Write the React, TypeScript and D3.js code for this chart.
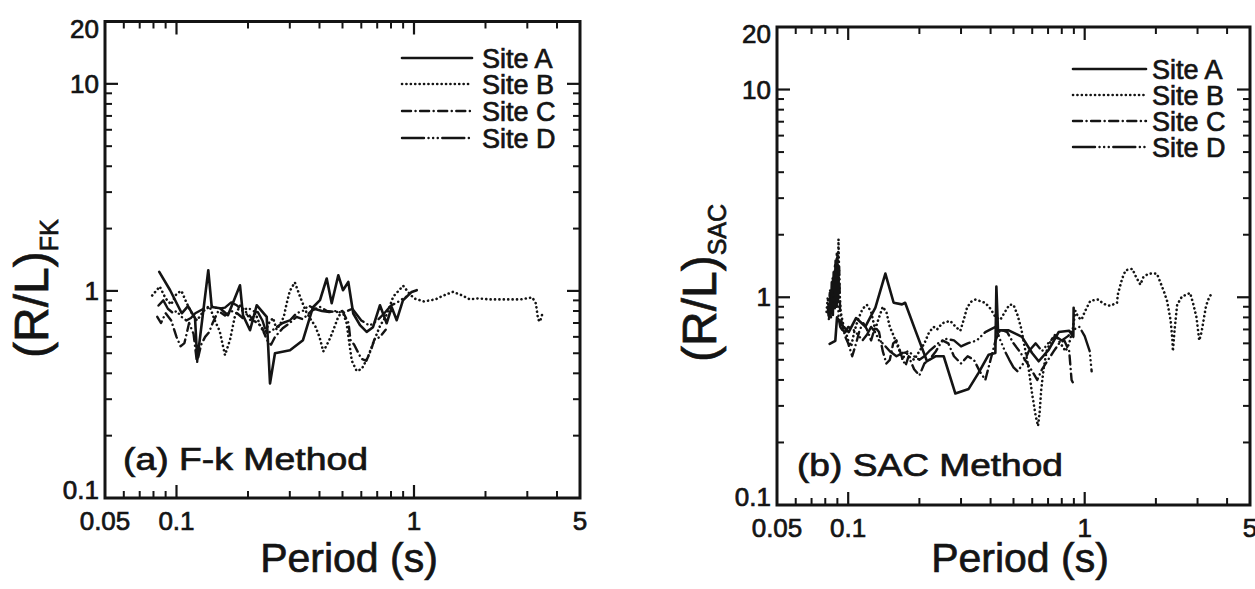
import React from 'react';
import * as d3 from 'd3';

type Pt = [number, number];

// ---------- data (period in s, R/L ratio) ----------
const siteNames = ['Site A', 'Site B', 'Site C', 'Site D'];
const xTickLabels = [0.05, 0.1, 1, 5];
const yTickLabels = [0.1, 1, 10, 20];
const xMinorTicks = [0.06, 0.07, 0.08, 0.09, 0.2, 0.3, 0.4, 0.5, 0.6, 0.7, 0.8, 0.9, 2, 3, 4];
const xMajorTicks = [0.1, 1];
const yMinorTicks = [0.2, 0.3, 0.4, 0.5, 0.6, 0.7, 0.8, 0.9, 2, 3, 4, 5, 6, 7, 8, 9];
const yMajorTicks = [1, 10];

const fkSiteA: Pt[] = [
  [0.0846, 1.235], [0.0939, 1.01], [0.1052, 0.78], [0.1118, 0.844], [0.1197, 0.738], [0.1223, 0.463],
  [0.1361, 1.259], [0.1407, 0.837], [0.1525, 0.825], [0.1647, 0.763], [0.1851, 1.065], [0.1905, 0.763],
  [0.204, 0.646], [0.2176, 0.853], [0.2398, 0.749], [0.2476, 0.357], [0.2598, 0.5], [0.3005, 0.517],
  [0.3408, 0.578], [0.3756, 0.834], [0.402, 0.902], [0.429, 1.148], [0.4503, 0.872], [0.48, 1.191],
  [0.5023, 1.008], [0.529, 1.105], [0.555, 0.778], [0.5924, 0.683], [0.632, 0.634], [0.672, 0.668],
  [0.719, 0.853], [0.767, 0.698], [0.8056, 0.834], [0.8458, 0.722], [0.8989, 0.902], [0.978, 0.989], [1.027, 1.008],
];
const fkSiteB: Pt[] = [
  [0.079, 0.95], [0.085, 1.05], [0.09, 0.92], [0.095, 0.86], [0.1, 0.97], [0.105, 1.0], [0.11, 0.88],
  [0.116, 0.78], [0.122, 0.72], [0.13, 0.8], [0.138, 0.84], [0.145, 0.72], [0.152, 0.64], [0.16, 0.49],
  [0.168, 0.58], [0.176, 0.75], [0.185, 0.85], [0.195, 0.8], [0.205, 0.72], [0.215, 0.78], [0.225, 0.68],
  [0.235, 0.62], [0.245, 0.7], [0.255, 0.74], [0.264, 0.65], [0.275, 0.7], [0.283, 0.75], [0.291, 0.87],
  [0.3, 1.0], [0.315, 1.1], [0.33, 0.95], [0.35, 0.8], [0.37, 0.72], [0.383, 0.68], [0.4, 0.6], [0.415, 0.51],
  [0.43, 0.55], [0.443, 0.59], [0.458, 0.65], [0.48, 0.75], [0.5, 0.8], [0.52, 0.7], [0.547, 0.46],
  [0.574, 0.41], [0.603, 0.42], [0.64, 0.48], [0.673, 0.56], [0.72, 0.68], [0.76, 0.75], [0.79, 0.84],
  [0.818, 0.94], [0.86, 1.0], [0.9, 1.06], [0.95, 0.98], [1.0, 0.92], [1.1, 0.89], [1.23, 0.91], [1.33, 0.95],
  [1.46, 0.99], [1.6, 0.95], [1.72, 0.91], [1.86, 0.92], [2.08, 0.91], [2.42, 0.91], [2.81, 0.91],
  [3.15, 0.93], [3.26, 0.87], [3.33, 0.73], [3.39, 0.71], [3.49, 0.79],
];
const fkSiteC: Pt[] = [
  [0.083, 0.75], [0.086, 0.7], [0.09, 0.78], [0.095, 0.72], [0.1, 0.6], [0.104, 0.54], [0.108, 0.56],
  [0.113, 0.7], [0.118, 0.62], [0.122, 0.45], [0.127, 0.55], [0.132, 0.6], [0.137, 0.63], [0.142, 0.7],
  [0.15, 0.8], [0.16, 0.76], [0.17, 0.8], [0.18, 0.78], [0.19, 0.74], [0.2, 0.78], [0.21, 0.72], [0.22, 0.7],
  [0.23, 0.66], [0.24, 0.58], [0.25, 0.55], [0.26, 0.6], [0.28, 0.66], [0.3, 0.7], [0.32, 0.75], [0.34, 0.73],
  [0.37, 0.8], [0.4, 0.84], [0.43, 0.8], [0.47, 0.79], [0.5, 0.8], [0.53, 0.7], [0.54, 0.58], [0.56, 0.55],
  [0.6, 0.47], [0.63, 0.46], [0.66, 0.52], [0.68, 0.58], [0.72, 0.6], [0.76, 0.65],
];
const fkSiteD: Pt[] = [
  [0.084, 0.85], [0.088, 0.9], [0.092, 0.82], [0.097, 0.78], [0.1, 0.8], [0.105, 0.75], [0.11, 0.72],
  [0.115, 0.74], [0.12, 0.78], [0.13, 0.82], [0.14, 0.85], [0.15, 0.82], [0.16, 0.83], [0.17, 0.88],
  [0.18, 0.85], [0.19, 0.8], [0.2, 0.83], [0.21, 0.8], [0.22, 0.79], [0.23, 0.72], [0.24, 0.62], [0.26, 0.66],
  [0.28, 0.7], [0.3, 0.72], [0.32, 0.78], [0.34, 0.8], [0.36, 0.85], [0.38, 0.82], [0.41, 0.8], [0.44, 0.79],
  [0.47, 0.8], [0.5, 0.78], [0.55, 0.82], [0.6, 0.72], [0.65, 0.68], [0.7, 0.72], [0.75, 0.78], [0.8, 0.85],
  [0.85, 0.88], [0.9, 0.92], [0.95, 0.95],
];

const sacSiteA: Pt[] = [
  [0.0835, 0.596], [0.0882, 0.617], [0.0897, 0.8], [0.0957, 0.718], [0.1005, 0.68], [0.1079, 0.794],
  [0.1182, 0.723], [0.1303, 0.891], [0.1436, 1.3], [0.1557, 0.941], [0.1689, 0.924], [0.1741, 0.941],
  [0.1923, 0.693], [0.2154, 0.492], [0.2337, 0.52], [0.2534, 0.52], [0.2839, 0.344], [0.3232, 0.362],
  [0.3563, 0.434], [0.3927, 0.529], [0.419, 0.539], [0.4232, 1.126], [0.43, 0.693], [0.477, 0.693],
  [0.543, 0.645], [0.599, 0.539], [0.639, 0.492], [0.704, 0.558], [0.776, 0.68], [0.86, 0.69],
  [0.895, 0.645], [0.898, 0.89],
];
const sacSiteB: Pt[] = [
  [0.081, 0.85], [0.082, 1.0], [0.083, 0.82], [0.084, 1.1], [0.085, 0.9], [0.086, 1.25], [0.087, 0.95],
  [0.088, 1.45], [0.089, 1.1], [0.0895, 1.65], [0.0905, 1.25], [0.091, 1.9], [0.0915, 1.3], [0.092, 1.05],
  [0.093, 0.85], [0.095, 0.75], [0.097, 0.7], [0.1, 0.62], [0.103, 0.58], [0.106, 0.68], [0.11, 0.78],
  [0.115, 0.88], [0.12, 0.92], [0.125, 0.85], [0.13, 0.7], [0.135, 0.8], [0.14, 0.9], [0.145, 0.85],
  [0.15, 0.72], [0.155, 0.66], [0.16, 0.6], [0.165, 0.55], [0.17, 0.5], [0.175, 0.55], [0.18, 0.52],
  [0.19, 0.5], [0.2, 0.55], [0.21, 0.6], [0.22, 0.68], [0.23, 0.72], [0.2375, 0.7], [0.25, 0.75],
  [0.27, 0.77], [0.285, 0.72], [0.298, 0.69], [0.31, 0.8], [0.318, 0.89], [0.33, 0.95], [0.345, 0.975],
  [0.36, 0.96], [0.38, 0.94], [0.4, 0.88], [0.42, 0.8], [0.44, 0.78], [0.46, 0.85], [0.48, 0.92],
  [0.5, 0.92], [0.52, 0.82], [0.54, 0.7], [0.56, 0.56], [0.58, 0.45], [0.6, 0.34], [0.62, 0.27],
  [0.635, 0.24], [0.645, 0.28], [0.655, 0.36], [0.67, 0.45], [0.69, 0.55], [0.72, 0.62], [0.75, 0.66],
  [0.79, 0.6], [0.83, 0.55], [0.86, 0.6], [0.89, 0.7], [0.913, 0.86], [0.94, 0.8], [0.97, 0.78],
  [1.0, 0.85], [1.02, 0.89], [1.056, 0.96], [1.1, 0.97], [1.144, 0.975], [1.2, 0.93], [1.28, 0.91],
  [1.37, 0.94], [1.38, 1.03], [1.44, 1.23], [1.49, 1.35], [1.59, 1.37], [1.65, 1.25], [1.72, 1.15],
  [1.77, 1.25], [1.86, 1.3], [2.02, 1.3], [2.16, 1.07], [2.23, 0.96], [2.31, 0.77], [2.35, 0.62],
  [2.36, 0.55], [2.4, 0.7], [2.46, 0.92], [2.58, 1.01], [2.7, 1.03], [2.79, 1.05], [2.87, 0.94],
  [2.97, 0.8], [3.05, 0.62], [3.12, 0.68], [3.26, 0.91], [3.35, 0.99], [3.45, 1.05],
];
const sacSiteC: Pt[] = [
  [0.082, 0.9], [0.0828, 0.78], [0.0836, 1.05], [0.0844, 0.8], [0.0852, 1.2], [0.086, 0.85], [0.0868, 1.35],
  [0.0876, 0.9], [0.0884, 1.5], [0.0892, 0.95], [0.09, 1.6], [0.0908, 1.0], [0.0916, 1.4], [0.0924, 0.85],
  [0.094, 0.75], [0.097, 0.65], [0.1, 0.6], [0.104, 0.52], [0.108, 0.6], [0.112, 0.7], [0.116, 0.75], [0.12, 0.7],
  [0.125, 0.62], [0.13, 0.72], [0.135, 0.68], [0.14, 0.55], [0.145, 0.48], [0.15, 0.5], [0.155, 0.6],
  [0.16, 0.62], [0.165, 0.56], [0.17, 0.5], [0.175, 0.47], [0.18, 0.52], [0.19, 0.45], [0.2, 0.42],
  [0.21, 0.48], [0.22, 0.5], [0.235, 0.55], [0.25, 0.62], [0.265, 0.6], [0.28, 0.52], [0.3, 0.48],
  [0.32, 0.52], [0.34, 0.5], [0.36, 0.44], [0.38, 0.4], [0.4, 0.5], [0.42, 0.62], [0.44, 0.7],
  [0.47, 0.68], [0.5, 0.6], [0.53, 0.55], [0.56, 0.5], [0.6, 0.44], [0.63, 0.4], [0.66, 0.45],
  [0.7, 0.5], [0.74, 0.55], [0.78, 0.6], [0.82, 0.62], [0.86, 0.55], [0.88, 0.4], [0.9, 0.38],
];
const sacSiteD: Pt[] = [
  [0.083, 0.8], [0.0838, 0.95], [0.0846, 0.78], [0.0854, 1.1], [0.0862, 0.82], [0.087, 1.25], [0.0878, 0.88],
  [0.0886, 1.4], [0.0894, 0.9], [0.0902, 1.3], [0.091, 0.8], [0.0925, 0.72], [0.094, 0.7], [0.097, 0.68],
  [0.1, 0.72], [0.105, 0.7], [0.11, 0.66], [0.115, 0.62], [0.12, 0.66], [0.125, 0.72], [0.13, 0.68],
  [0.135, 0.62], [0.14, 0.6], [0.15, 0.55], [0.16, 0.52], [0.17, 0.54], [0.18, 0.55], [0.19, 0.52],
  [0.2, 0.5], [0.21, 0.52], [0.22, 0.55], [0.24, 0.6], [0.26, 0.63], [0.28, 0.62], [0.3, 0.58],
  [0.32, 0.6], [0.35, 0.62], [0.38, 0.68], [0.4, 0.7], [0.42, 0.72], [0.44, 0.62], [0.46, 0.55],
  [0.48, 0.5], [0.5, 0.46], [0.52, 0.44], [0.55, 0.48], [0.58, 0.55], [0.62, 0.6], [0.66, 0.55],
  [0.7, 0.6], [0.75, 0.65], [0.8, 0.62], [0.85, 0.65], [0.9, 0.7], [0.95, 0.72], [1.0, 0.65],
  [1.05, 0.55], [1.07, 0.44],
];

// ---------- styling ----------
const FONT = '"Liberation Sans", Arial, Helvetica, sans-serif';
const INK = '#141414';
const TXT_STROKE = 0.7;
const seriesStyles = [
  { dash: undefined as string | undefined, width: 2.6 },
  { dash: '0.1 4.3', width: 2.6 },
  { dash: '9 4.5 0.1 4.5', width: 2.4 },
  { dash: '22 4.5 0.1 4.5 0.1 4.5 0.1 4.5', width: 2.4 },
];

interface PanelProps {
  left: number; right: number; top: number; bottom: number;
  series: Pt[][];
  label: string; labelX: number; labelY: number; labelLen: number;
  sub: string; yTitleX: number; yTitleY: number;
  xTitleX: number;
  legendLineX0: number; legendLineX1: number; legendTextX: number; legendRows: number[];
}

function Panel(p: PanelProps) {
  const x = d3.scaleLog().domain([0.05, 5]).range([p.left, p.right]);
  const y = d3.scaleLog().domain([0.1, 20]).range([p.bottom, p.top]);
  const line = d3.line<Pt>().x(d => x(d[0])).y(d => y(d[1]));
  const minorLen = 7, majorLen = 13;
  const fmt = (v: number) => String(v);
  const txt = { fontFamily: FONT, fill: INK, stroke: INK, strokeWidth: TXT_STROKE };
  return (
    <g>
      {/* data */}
      {p.series.map((s, i) => (
        <path key={i} d={line(s) || ''} fill="none" stroke={INK}
          strokeWidth={seriesStyles[i].width}
          strokeDasharray={seriesStyles[i].dash}
          strokeLinecap="round" strokeLinejoin="round" />
      ))}
      {/* ticks */}
      {xMinorTicks.map(t => (
        <g key={'xm' + t}>
          <line x1={x(t)} x2={x(t)} y1={p.bottom} y2={p.bottom - minorLen} stroke={INK} strokeWidth={2} />
          <line x1={x(t)} x2={x(t)} y1={p.top} y2={p.top + minorLen} stroke={INK} strokeWidth={2} />
        </g>
      ))}
      {xMajorTicks.map(t => (
        <g key={'xM' + t}>
          <line x1={x(t)} x2={x(t)} y1={p.bottom} y2={p.bottom - majorLen} stroke={INK} strokeWidth={2.2} />
          <line x1={x(t)} x2={x(t)} y1={p.top} y2={p.top + majorLen} stroke={INK} strokeWidth={2.2} />
        </g>
      ))}
      {yMinorTicks.map(t => (
        <g key={'ym' + t}>
          <line x1={p.left} x2={p.left + minorLen} y1={y(t)} y2={y(t)} stroke={INK} strokeWidth={2} />
          <line x1={p.right} x2={p.right - minorLen} y1={y(t)} y2={y(t)} stroke={INK} strokeWidth={2} />
        </g>
      ))}
      {yMajorTicks.map(t => (
        <g key={'yM' + t}>
          <line x1={p.left} x2={p.left + majorLen} y1={y(t)} y2={y(t)} stroke={INK} strokeWidth={2.2} />
          <line x1={p.right} x2={p.right - majorLen} y1={y(t)} y2={y(t)} stroke={INK} strokeWidth={2.2} />
        </g>
      ))}
      {/* frame */}
      <rect x={p.left} y={p.top} width={p.right - p.left} height={p.bottom - p.top}
        fill="none" stroke={INK} strokeWidth={3} />
      {/* tick labels */}
      {xTickLabels.map(t => (
        <text key={'xl' + t} x={x(t)} y={p.bottom + 32} fontSize={26} textAnchor="middle" {...txt}>{fmt(t)}</text>
      ))}
      {yTickLabels.map(t => {
        let cy = y(t);
        if (t === 20) cy = p.top + 7;
        if (t === 0.1) cy = p.bottom - 8;
        return (
          <text key={'yl' + t} x={p.left - 6} y={cy + 9} fontSize={26} textAnchor="end" {...txt}>{fmt(t)}</text>
        );
      })}
      {/* axis titles */}
      <text x={p.xTitleX} y={572} fontSize={41} textAnchor="middle" {...txt}>Period (s)</text>
      <text transform={`translate(${p.yTitleX},${p.yTitleY}) rotate(-90)`} fontSize={48} {...txt}>
        (R/L)<tspan fontSize={25} dy={10}>{p.sub}</tspan>
      </text>
      {/* panel label */}
      <text x={p.labelX} y={p.labelY} fontSize={31} {...txt}
        textLength={p.labelLen} lengthAdjust="spacingAndGlyphs">{p.label}</text>
      {/* legend */}
      {siteNames.map((n, i) => (
        <g key={n}>
          <line x1={p.legendLineX0} x2={p.legendLineX1} y1={p.legendRows[i]} y2={p.legendRows[i]}
            stroke={INK} strokeWidth={seriesStyles[i].width} strokeDasharray={seriesStyles[i].dash}
            strokeLinecap="round" />
          <text x={p.legendTextX} y={p.legendRows[i] + 9.5} fontSize={27} {...txt}>{n}</text>
        </g>
      ))}
    </g>
  );
}

export default function App() {
  return (
    <svg width={1255} height={589} viewBox="0 0 1255 589"
      style={{ position: 'absolute', left: 0, top: 0, background: '#fff' }}>
      <rect x={0} y={0} width={1255} height={589} fill="#fff" />
      <Panel left={105} right={580} top={21.5} bottom={498}
        series={[fkSiteA, fkSiteB, fkSiteC, fkSiteD]}
        label="(a) F-k  Method" labelX={123} labelY={470} labelLen={245}
        sub="FK" yTitleX={48} yTitleY={358} xTitleX={349}
        legendLineX0={402} legendLineX1={472} legendTextX={482} legendRows={[58, 84, 111, 138]} />
      <Panel left={777} right={1250} top={27} bottom={505}
        series={[sacSiteA, sacSiteB, sacSiteC, sacSiteD]}
        label="(b) SAC Method" labelX={797} labelY={476} labelLen={266}
        sub="SAC" yTitleX={716} yTitleY={362} xTitleX={1020}
        legendLineX0={1073} legendLineX1={1146} legendTextX={1152} legendRows={[69, 95, 121, 147]} />
    </svg>
  );
}
